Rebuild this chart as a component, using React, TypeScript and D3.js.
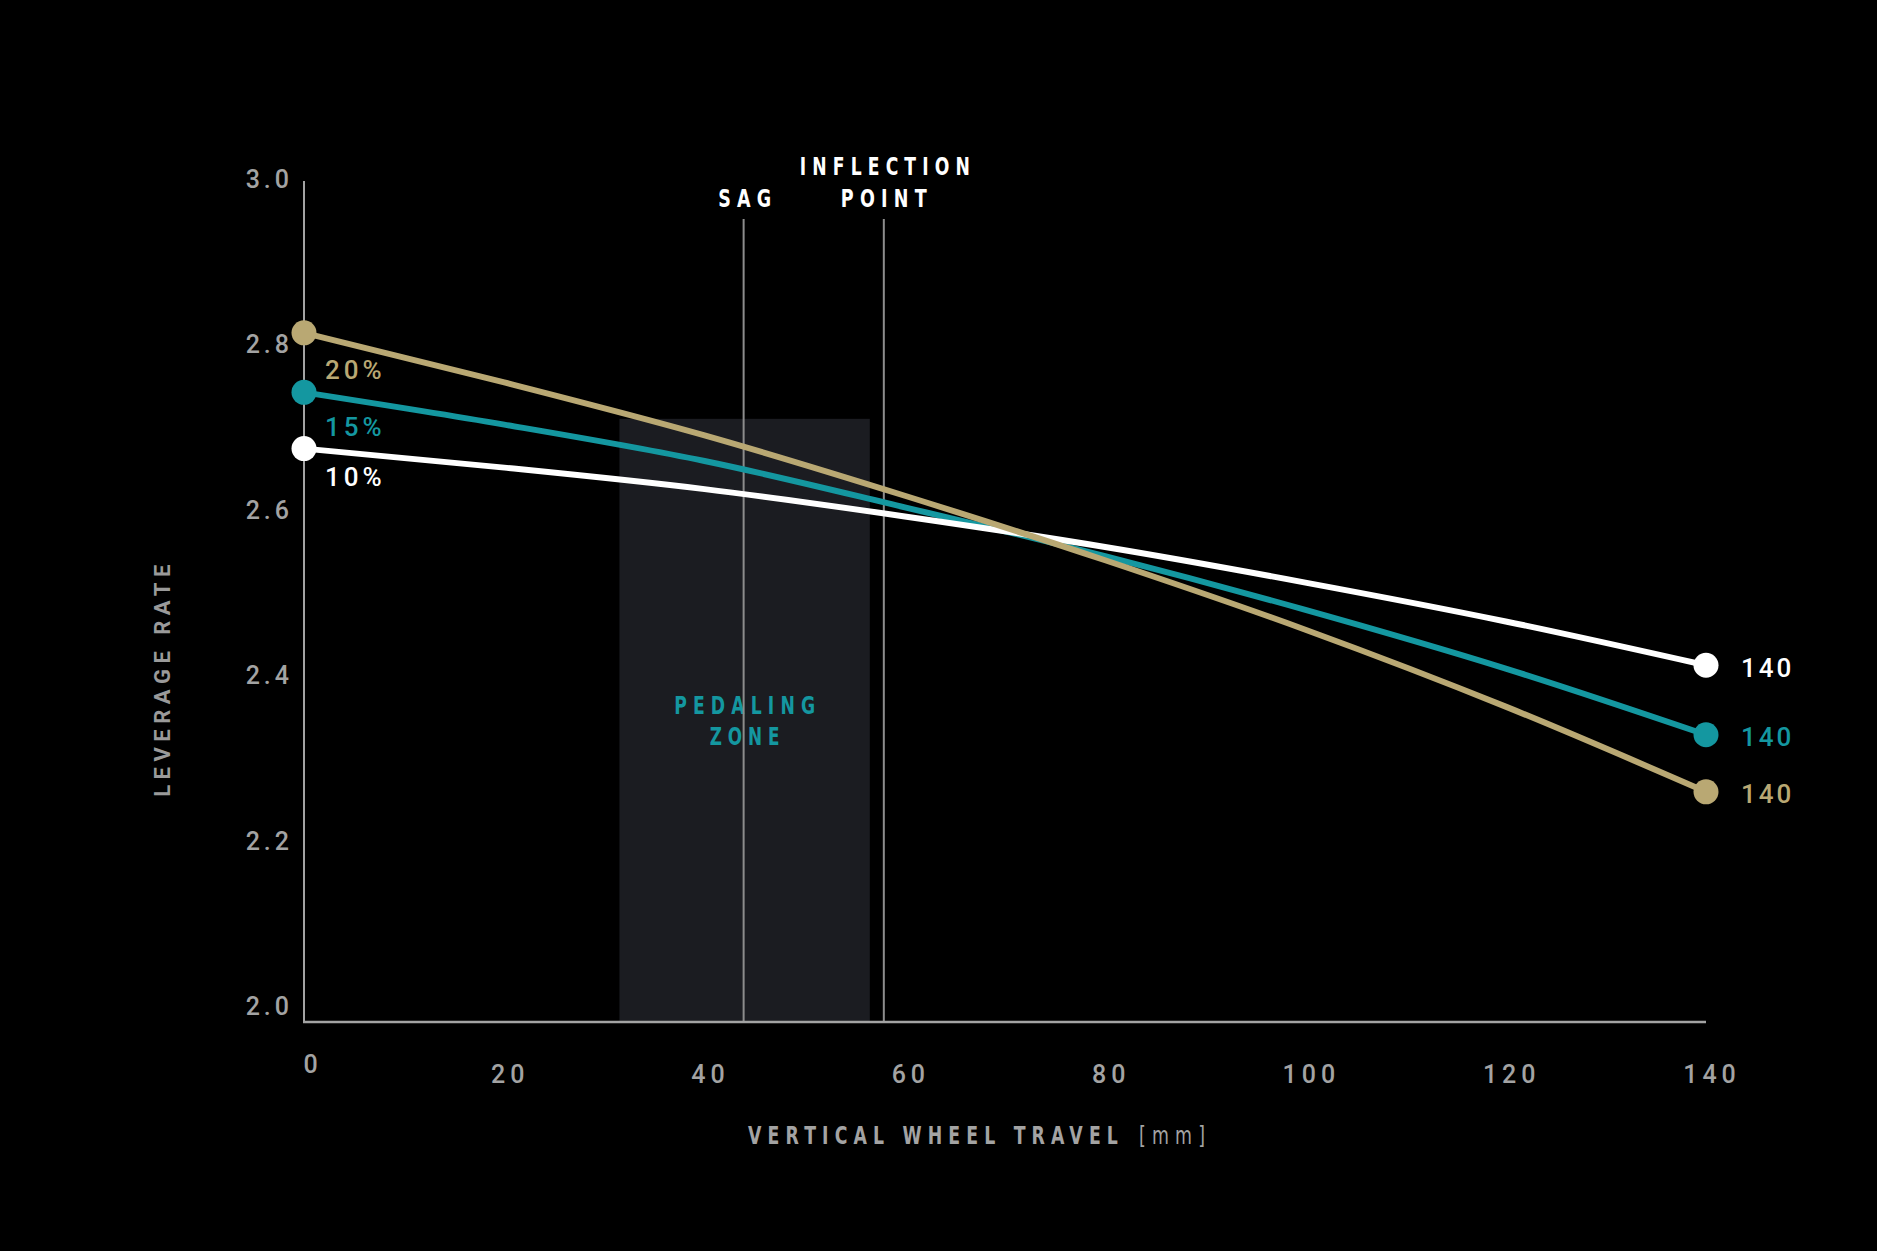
import React, { useEffect, useRef } from 'react';
import * as d3 from 'd3';

// wheel travel samples (mm)
const travel = [0, 20, 40, 60, 80, 100, 120, 140];
// leverage rate per progression setting
const rate10 = [2.674, 2.651, 2.625, 2.592, 2.555, 2.512, 2.465, 2.412];
const rate15 = [2.742, 2.703, 2.659, 2.603, 2.544, 2.479, 2.408, 2.328];
const rate20 = [2.814, 2.754, 2.690, 2.617, 2.539, 2.455, 2.362, 2.259];

const seriesNames = ['15%', '10%', '20%'];
const seriesColors = ['#1497a0', '#ffffff', '#b9a873'];
const seriesValues = [rate15, rate10, rate20];
const labelOffsets = [34, 28, 37];

const yTicks = [2.0, 2.2, 2.4, 2.6, 2.8, 3.0];
const xTicks = [0, 20, 40, 60, 80, 100, 120, 140];

const sagTravel = 43.9;
const inflectionTravel = 57.9;
const pedalZone = [31.5, 56.5];
const pedalZoneTop = 2.71;

const W = 1877;
const H = 1251;

const App: React.FC = () => {
    const svgRef = useRef<SVGSVGElement>(null);

    useEffect(() => {
        document.body.style.margin = '0';
        document.body.style.background = '#000';
        if (!svgRef.current) return;

        const svg = d3.select(svgRef.current);
        svg.selectAll('*').remove();

        svg.append('rect').attr('width', W).attr('height', H).attr('fill', '#000');

        const x = d3.scaleLinear().domain([0, 140]).range([304, 1706]);
        const y = d3.scaleLinear().domain([2.0, 3.0]).range([1006, 179]);
        const baseY = y(2.0) + 16;

        const tickFont = 'Roboto, "DejaVu Sans", sans-serif';
        const narrowFont = '"DejaVu Sans Condensed", "Liberation Sans", sans-serif';
        const grey = '#a3a3a3';

        // condensed caption text: measured, then squeezed horizontally to the given width
        const narrowText = (left: number, ty: number, s: string, len: number, color: string, weight = 700) => {
            const t = svg.append('text')
                .attr('x', 0)
                .attr('y', 0)
                .attr('fill', color)
                .attr('font-family', narrowFont)
                .attr('font-weight', weight)
                .attr('font-size', 25)
                .attr('letter-spacing', 8)
                .text(s);
            const natural = (t.node() as SVGTextElement).getComputedTextLength() - 8;
            const k = natural > 0 ? len / natural : 1;
            t.attr('transform', `translate(${left}, ${ty}) scale(${k}, 1)`);
            return t;
        };
        const centeredNarrow = (cx: number, ty: number, s: string, len: number, color: string) =>
            narrowText(cx - len / 2, ty, s, len, color);

        // pedaling zone
        svg.append('rect')
            .attr('x', x(pedalZone[0]))
            .attr('y', y(pedalZoneTop))
            .attr('width', x(pedalZone[1]) - x(pedalZone[0]))
            .attr('height', baseY - y(pedalZoneTop))
            .attr('fill', '#1b1c21');

        centeredNarrow(x(sagTravel) + 1, 714, 'PEDALING', 141, '#1497a0');
        centeredNarrow(x(sagTravel) + 1, 745, 'ZONE', 70, '#1497a0');

        // sag / inflection markers
        [sagTravel, inflectionTravel].forEach(t => {
            svg.append('line')
                .attr('x1', x(t)).attr('x2', x(t))
                .attr('y1', y(3.0) + 40).attr('y2', baseY)
                .attr('stroke', '#8c8c8c')
                .attr('stroke-width', 2);
        });

        centeredNarrow(x(sagTravel) + 1, 207, 'SAG', 53, '#ffffff');
        centeredNarrow(x(inflectionTravel) + 1, 175, 'INFLECTION', 170, '#ffffff');
        centeredNarrow(x(inflectionTravel), 207, 'POINT', 86, '#ffffff');

        // axes
        svg.append('line')
            .attr('x1', x(0)).attr('x2', x(0))
            .attr('y1', y(3.0) + 2).attr('y2', baseY)
            .attr('stroke', grey).attr('stroke-width', 2);
        svg.append('line')
            .attr('x1', x(0) - 1).attr('x2', x(140))
            .attr('y1', baseY).attr('y2', baseY)
            .attr('stroke', grey).attr('stroke-width', 2.5);

        svg.selectAll('.ytick')
            .data(yTicks)
            .enter()
            .append('text')
            .attr('class', 'ytick')
            .attr('x', 293)
            .attr('y', d => y(d))
            .attr('dy', '0.36em')
            .attr('text-anchor', 'end')
            .attr('fill', grey)
            .attr('font-family', tickFont)
            .attr('font-weight', 500)
            .attr('font-size', 25)
            .attr('letter-spacing', 4)
            .text(d => d3.format('.1f')(d));

        svg.selectAll('.xtick')
            .data(xTicks)
            .enter()
            .append('text')
            .attr('class', 'xtick')
            .attr('x', d => x(d) + (d === 0 ? 9 : 6))
            .attr('y', d => (d === 0 ? 1073 : 1083))
            .attr('text-anchor', 'middle')
            .attr('fill', grey)
            .attr('font-family', tickFont)
            .attr('font-weight', 500)
            .attr('font-size', 25)
            .attr('letter-spacing', 5)
            .text(d => String(d));

        // x title: bold part + lighter unit
        narrowText(748, 1144, 'VERTICAL WHEEL TRAVEL', 370, grey);
        narrowText(1139, 1144, '[mm]', 66, grey, 400);

        svg.append('text')
            .attr('transform', `translate(170, 678) rotate(-90)`)
            .attr('text-anchor', 'middle')
            .attr('fill', '#9a9a9a')
            .attr('font-family', tickFont)
            .attr('font-weight', 700)
            .attr('font-size', 22)
            .attr('letter-spacing', 5.5)
            .text('LEVERAGE RATE');

        // curves
        const line = d3.line<number>()
            .x((_, i) => x(travel[i]))
            .y(d => y(d))
            .curve(d3.curveMonotoneX);

        seriesValues.forEach((vals, si) => {
            svg.append('path')
                .datum(vals)
                .attr('fill', 'none')
                .attr('stroke', seriesColors[si])
                .attr('stroke-width', 6)
                .attr('stroke-linecap', 'round')
                .attr('d', line);
        });

        seriesValues.forEach((vals, si) => {
            const last = vals.length - 1;
            [0, last].forEach(i => {
                svg.append('circle')
                    .attr('cx', x(travel[i]))
                    .attr('cy', y(vals[i]))
                    .attr('r', 12.5)
                    .attr('fill', seriesColors[si]);
            });

            // start label (percentage)
            svg.append('text')
                .attr('x', x(travel[0]) + 21)
                .attr('y', y(vals[0]) + labelOffsets[si])
                .attr('dy', '0.36em')
                .attr('fill', seriesColors[si])
                .attr('font-family', tickFont)
                .attr('font-weight', 500)
                .attr('font-size', 26)
                .attr('letter-spacing', 4)
                .text(seriesNames[si]);

            // end label (travel)
            svg.append('text')
                .attr('x', x(travel[last]) + 35)
                .attr('y', y(vals[last]) + 2)
                .attr('dy', '0.36em')
                .attr('fill', seriesColors[si])
                .attr('font-family', tickFont)
                .attr('font-weight', 500)
                .attr('font-size', 26)
                .attr('letter-spacing', 3)
                .text(String(travel[last]));
        });
    }, []);

    return <svg ref={svgRef} width={W} height={H} style={{ display: 'block' }}></svg>;
};

export default App;
